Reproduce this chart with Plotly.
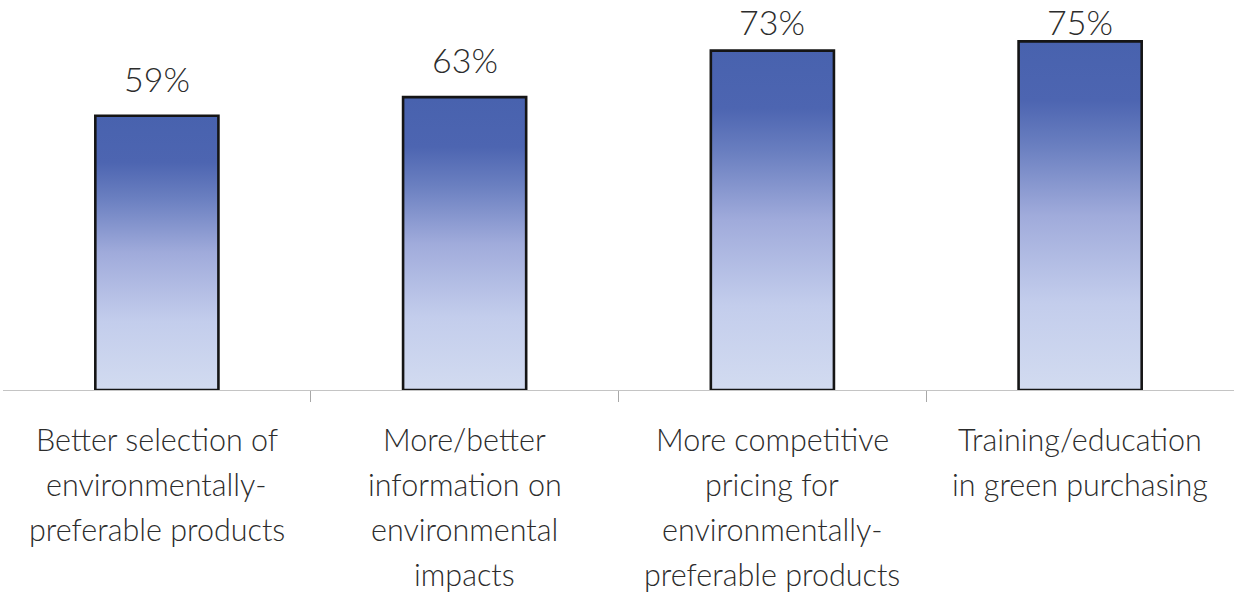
import plotly.graph_objects as go

# Survey results: share of respondents citing each factor
categories = [
    "Better selection of<br>environmentally-<br>preferable products",
    "More/better<br>information on<br>environmental<br>impacts",
    "More competitive<br>pricing for<br>environmentally-<br>preferable products",
    "Training/education<br>in green purchasing",
]
values = [59, 63, 73, 75]
value_labels = ["59%", "63%", "73%", "75%"]

Y_MAX = 83.9
PX_PER_UNIT = 390 / Y_MAX          # plot area is 390 px tall
LABEL_GAP = 37.5 / PX_PER_UNIT     # label centre sits this far above a bar
LABEL_CAP = Y_MAX - 21 / PX_PER_UNIT  # keep labels inside the top edge

BAR_WIDTH = 0.4
FONT = "Lato"
TEXT_COLOR = "#2c2c2c"
GRADIENT = [
    [0.0, "#d2dbf0"],
    [0.25, "#c3cdec"],
    [0.5, "#a0abdb"],
    [0.7, "#6a7fc0"],
    [0.83, "#4d65b1"],
    [1.0, "#4862ae"],
]

fig = go.Figure()

# Each bar is a closed polygon so it can carry a vertical gradient fill
for i, v in enumerate(values):
    x0, x1 = i - BAR_WIDTH / 2, i + BAR_WIDTH / 2
    fig.add_trace(go.Scatter(
        x=[x0, x0, x1, x1, x0],
        y=[0, v, v, 0, 0],
        mode="lines",
        fill="toself",
        fillgradient=dict(type="vertical", colorscale=GRADIENT),
        line=dict(color="#151515", width=2.6),
        hoverinfo="skip",
        showlegend=False,
    ))

# Percentage labels above the bars
for i, (v, lab) in enumerate(zip(values, value_labels)):
    fig.add_annotation(
        x=i, y=min(v + LABEL_GAP, LABEL_CAP), text=lab, showarrow=False,
        yanchor="middle",
        font=dict(family=FONT, size=34, color=TEXT_COLOR, weight=300),
    )

# Category labels, one annotation per line for wider line spacing
for i, cat in enumerate(categories):
    for j, line in enumerate(cat.split("<br>")):
        fig.add_annotation(
            x=i, y=0, yref="paper", text=line, showarrow=False,
            yanchor="middle", yshift=-(49 + 45 * j),
            font=dict(family=FONT, size=30.5, color=TEXT_COLOR, weight=300),
        )

fig.update_xaxes(
    range=[-0.5, 3.5],
    showgrid=False, zeroline=False,
    showline=True, linecolor="#c4c4c4", linewidth=1,
    tickmode="array", tickvals=[0.5, 1.5, 2.5],
    ticks="outside", ticklen=11, tickcolor="#a8a8a8", tickwidth=1,
    showticklabels=False,
)
fig.update_yaxes(
    range=[0, Y_MAX], visible=False, showgrid=False, zeroline=False,
)
fig.update_layout(
    width=1234, height=597,
    margin=dict(l=3, r=0, t=0, b=207),
    plot_bgcolor="white", paper_bgcolor="white",
    showlegend=False,
)

fig.write_html("out.html")
